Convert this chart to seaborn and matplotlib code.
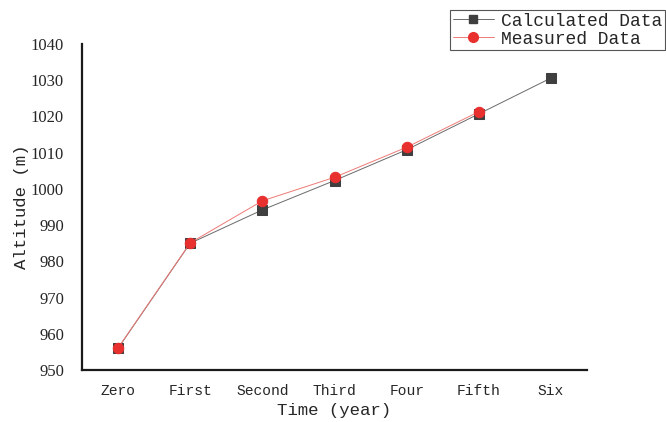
import numpy as np
import pandas as pd
import matplotlib
matplotlib.use("Agg")
import matplotlib.pyplot as plt
import seaborn as sns
from matplotlib.lines import Line2D

# ---- data ----
categories = ["Zero", "First", "Second", "Third", "Four", "Fifth", "Six"]
calculated = [956.0, 985.0, 994.2, 1002.3, 1010.8, 1020.7, 1030.6]
measured = [956.1, 985.1, 996.7, 1003.2, 1011.5, 1021.3, np.nan]
series_names = ["Calculated Data", "Measured Data"]
y_ticks = [950, 960, 970, 980, 990, 1000, 1010, 1020, 1030, 1040]

df = pd.DataFrame({
    "Time": categories * 2,
    "pos": list(range(len(categories))) * 2,
    "Altitude": calculated + measured,
    "Series": [series_names[0]] * len(categories) + [series_names[1]] * len(categories),
})
df = df.dropna()

sns.set_theme(style="white")
plt.rcParams["font.family"] = ["Liberation Serif", "Noto Sans CJK SC", "DejaVu Sans"]

fig = plt.figure(figsize=(6.66, 4.22), dpi=100)
ax = fig.add_axes([82 / 666, 1 - 370 / 422, (587 - 82) / 666, (370 - 44) / 422])

calc_color = "#3f3f3f"
meas_color = "#e8302f"
text_color = "#262626"

sns.lineplot(data=df[df["Series"] == series_names[0]], x="pos", y="Altitude", ax=ax,
             color="#6a6a6a", linewidth=0.7, marker="s", markersize=6.5,
             markerfacecolor=calc_color, markeredgecolor=calc_color, legend=False)
sns.lineplot(data=df[df["Series"] == series_names[1]], x="pos", y="Altitude", ax=ax,
             color="#ee7a76", linewidth=0.7, marker="o", markersize=7.5,
             markerfacecolor=meas_color, markeredgecolor=meas_color, legend=False)

ax.set_xlim(-0.5, len(categories) - 0.5)
ax.set_ylim(950, 1040)
ax.set_xticks(range(len(categories)))
ax.set_xticklabels(categories, family=["Liberation Mono", "DejaVu Sans"], fontsize=10.5, color=text_color)
ax.set_yticks(y_ticks)
ax.set_yticklabels([str(v) for v in y_ticks], family=["Liberation Serif"], fontsize=12, color=text_color)
ax.tick_params(axis="both", length=0)
ax.tick_params(axis="y", pad=13)
ax.tick_params(axis="x", pad=10)

ax.set_xlabel("Time (year)", family=["Liberation Mono", "DejaVu Sans"], fontsize=12.5,
              color=text_color, labelpad=4)
ax.set_ylabel("Altitude (m)", family=["Liberation Mono", "DejaVu Sans"], fontsize=12.5,
              color=text_color, labelpad=1)

for s in ["top", "right"]:
    ax.spines[s].set_visible(False)
for s in ["left", "bottom"]:
    ax.spines[s].set_color("#1a1a1a")
    ax.spines[s].set_linewidth(1.6)
ax.grid(False)

handles = [
    Line2D([], [], color="#6a6a6a", linewidth=0.7, marker="s", markersize=6,
           markerfacecolor=calc_color, markeredgecolor=calc_color),
    Line2D([], [], color="#ee7a76", linewidth=0.7, marker="o", markersize=7,
           markerfacecolor=meas_color, markeredgecolor=meas_color),
]
leg = fig.legend(handles, series_names, loc="upper left", bbox_to_anchor=(450 / 666, 1 - 10 / 422),
                 frameon=True, fancybox=False, framealpha=1, edgecolor="#555555",
                 prop={"family": ["Liberation Mono", "DejaVu Sans"], "size": 13},
                 handlelength=2.3, handletextpad=0.4, labelspacing=0.05,
                 borderpad=0.15, borderaxespad=0)
leg.get_frame().set_linewidth(0.8)
for t in leg.get_texts():
    t.set_color(text_color)

fig.savefig("out.png", dpi=100)
